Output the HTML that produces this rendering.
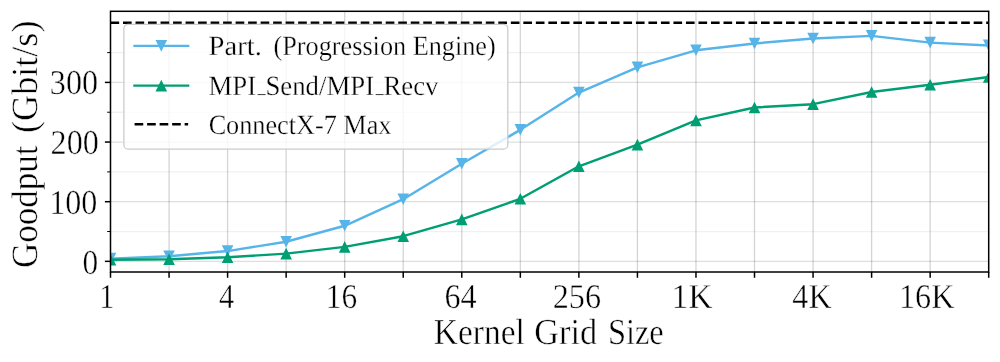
<!DOCTYPE html>
<html><head><meta charset="utf-8"><style>
html,body{margin:0;padding:0;background:#fff;width:1000px;height:362px;overflow:hidden;position:relative}
</style></head><body>
<svg width="1000" height="362" viewBox="0 0 1000 362" style="position:absolute;left:0;top:0">
<defs><clipPath id="ax"><rect x="110.5" y="11.3" width="878.20" height="260.70"/></clipPath></defs>
<line x1="169.05" y1="11.3" x2="169.05" y2="272.0" stroke="#000" stroke-opacity="0.17" stroke-width="1.3"/>
<line x1="227.59" y1="11.3" x2="227.59" y2="272.0" stroke="#000" stroke-opacity="0.17" stroke-width="1.3"/>
<line x1="286.14" y1="11.3" x2="286.14" y2="272.0" stroke="#000" stroke-opacity="0.17" stroke-width="1.3"/>
<line x1="344.69" y1="11.3" x2="344.69" y2="272.0" stroke="#000" stroke-opacity="0.17" stroke-width="1.3"/>
<line x1="403.23" y1="11.3" x2="403.23" y2="272.0" stroke="#000" stroke-opacity="0.17" stroke-width="1.3"/>
<line x1="461.78" y1="11.3" x2="461.78" y2="272.0" stroke="#000" stroke-opacity="0.17" stroke-width="1.3"/>
<line x1="520.33" y1="11.3" x2="520.33" y2="272.0" stroke="#000" stroke-opacity="0.17" stroke-width="1.3"/>
<line x1="578.87" y1="11.3" x2="578.87" y2="272.0" stroke="#000" stroke-opacity="0.17" stroke-width="1.3"/>
<line x1="637.42" y1="11.3" x2="637.42" y2="272.0" stroke="#000" stroke-opacity="0.17" stroke-width="1.3"/>
<line x1="695.97" y1="11.3" x2="695.97" y2="272.0" stroke="#000" stroke-opacity="0.17" stroke-width="1.3"/>
<line x1="754.51" y1="11.3" x2="754.51" y2="272.0" stroke="#000" stroke-opacity="0.17" stroke-width="1.3"/>
<line x1="813.06" y1="11.3" x2="813.06" y2="272.0" stroke="#000" stroke-opacity="0.17" stroke-width="1.3"/>
<line x1="871.61" y1="11.3" x2="871.61" y2="272.0" stroke="#000" stroke-opacity="0.17" stroke-width="1.3"/>
<line x1="930.15" y1="11.3" x2="930.15" y2="272.0" stroke="#000" stroke-opacity="0.17" stroke-width="1.3"/>
<line x1="110.5" y1="231.53" x2="988.7" y2="231.53" stroke="#000" stroke-opacity="0.06" stroke-width="1.3"/>
<line x1="110.5" y1="171.88" x2="988.7" y2="171.88" stroke="#000" stroke-opacity="0.06" stroke-width="1.3"/>
<line x1="110.5" y1="112.23" x2="988.7" y2="112.23" stroke="#000" stroke-opacity="0.06" stroke-width="1.3"/>
<line x1="110.5" y1="52.58" x2="988.7" y2="52.58" stroke="#000" stroke-opacity="0.06" stroke-width="1.3"/>
<line x1="110.5" y1="261.35" x2="988.7" y2="261.35" stroke="#000" stroke-opacity="0.13" stroke-width="1.3"/>
<line x1="110.5" y1="201.70" x2="988.7" y2="201.70" stroke="#000" stroke-opacity="0.13" stroke-width="1.3"/>
<line x1="110.5" y1="142.05" x2="988.7" y2="142.05" stroke="#000" stroke-opacity="0.13" stroke-width="1.3"/>
<line x1="110.5" y1="82.40" x2="988.7" y2="82.40" stroke="#000" stroke-opacity="0.13" stroke-width="1.3"/>
<line x1="110.5" y1="22.75" x2="988.7" y2="22.75" stroke="#000" stroke-width="2.44" stroke-dasharray="8.65 3.86"/>
<g clip-path="url(#ax)"><polyline points="110.50,258.61 169.05,256.22 227.59,251.09 286.14,241.73 344.69,225.80 403.23,199.19 461.78,163.82 520.33,129.82 578.87,92.54 637.42,67.37 695.97,50.31 754.51,43.45 813.06,38.56 871.61,35.87 930.15,42.61 988.70,45.42" fill="none" stroke="#56B4E9" stroke-width="2.44" stroke-linejoin="round"/>
<path d="M104.70,252.81 L116.30,252.81 L110.50,264.41 Z M163.25,250.42 L174.85,250.42 L169.05,262.02 Z M221.79,245.29 L233.39,245.29 L227.59,256.89 Z M280.34,235.93 L291.94,235.93 L286.14,247.53 Z M338.89,220.00 L350.49,220.00 L344.69,231.60 Z M397.43,193.39 L409.03,193.39 L403.23,204.99 Z M455.98,158.02 L467.58,158.02 L461.78,169.62 Z M514.53,124.02 L526.13,124.02 L520.33,135.62 Z M573.07,86.74 L584.67,86.74 L578.87,98.34 Z M631.62,61.57 L643.22,61.57 L637.42,73.17 Z M690.17,44.51 L701.77,44.51 L695.97,56.11 Z M748.71,37.65 L760.31,37.65 L754.51,49.25 Z M807.26,32.76 L818.86,32.76 L813.06,44.36 Z M865.81,30.07 L877.41,30.07 L871.61,41.67 Z M924.35,36.81 L935.95,36.81 L930.15,48.41 Z M982.90,39.62 L994.50,39.62 L988.70,51.22 Z" fill="#56B4E9"/></g>
<g clip-path="url(#ax)"><polyline points="110.50,259.80 169.05,259.32 227.59,257.29 286.14,253.60 344.69,246.86 403.23,236.18 461.78,219.42 520.33,198.78 578.87,166.27 637.42,144.67 695.97,120.34 754.51,107.51 813.06,104.17 871.61,92.00 930.15,84.79 988.70,77.03" fill="none" stroke="#009E73" stroke-width="2.44" stroke-linejoin="round"/>
<path d="M104.70,265.60 L116.30,265.60 L110.50,254.00 Z M163.25,265.12 L174.85,265.12 L169.05,253.52 Z M221.79,263.09 L233.39,263.09 L227.59,251.49 Z M280.34,259.40 L291.94,259.40 L286.14,247.80 Z M338.89,252.66 L350.49,252.66 L344.69,241.06 Z M397.43,241.98 L409.03,241.98 L403.23,230.38 Z M455.98,225.22 L467.58,225.22 L461.78,213.62 Z M514.53,204.58 L526.13,204.58 L520.33,192.98 Z M573.07,172.07 L584.67,172.07 L578.87,160.47 Z M631.62,150.47 L643.22,150.47 L637.42,138.87 Z M690.17,126.14 L701.77,126.14 L695.97,114.54 Z M748.71,113.31 L760.31,113.31 L754.51,101.71 Z M807.26,109.97 L818.86,109.97 L813.06,98.37 Z M865.81,97.80 L877.41,97.80 L871.61,86.20 Z M924.35,90.59 L935.95,90.59 L930.15,78.99 Z M982.90,82.83 L994.50,82.83 L988.70,71.23 Z" fill="#009E73"/></g>
<rect x="110.5" y="11.3" width="878.20" height="260.70" fill="none" stroke="#000" stroke-width="1.5"/>
<line x1="110.50" y1="272.0" x2="110.50" y2="277.80" stroke="#000" stroke-width="1.5"/>
<line x1="169.05" y1="272.0" x2="169.05" y2="277.80" stroke="#000" stroke-width="1.5"/>
<line x1="227.59" y1="272.0" x2="227.59" y2="277.80" stroke="#000" stroke-width="1.5"/>
<line x1="286.14" y1="272.0" x2="286.14" y2="277.80" stroke="#000" stroke-width="1.5"/>
<line x1="344.69" y1="272.0" x2="344.69" y2="277.80" stroke="#000" stroke-width="1.5"/>
<line x1="403.23" y1="272.0" x2="403.23" y2="277.80" stroke="#000" stroke-width="1.5"/>
<line x1="461.78" y1="272.0" x2="461.78" y2="277.80" stroke="#000" stroke-width="1.5"/>
<line x1="520.33" y1="272.0" x2="520.33" y2="277.80" stroke="#000" stroke-width="1.5"/>
<line x1="578.87" y1="272.0" x2="578.87" y2="277.80" stroke="#000" stroke-width="1.5"/>
<line x1="637.42" y1="272.0" x2="637.42" y2="277.80" stroke="#000" stroke-width="1.5"/>
<line x1="695.97" y1="272.0" x2="695.97" y2="277.80" stroke="#000" stroke-width="1.5"/>
<line x1="754.51" y1="272.0" x2="754.51" y2="277.80" stroke="#000" stroke-width="1.5"/>
<line x1="813.06" y1="272.0" x2="813.06" y2="277.80" stroke="#000" stroke-width="1.5"/>
<line x1="871.61" y1="272.0" x2="871.61" y2="277.80" stroke="#000" stroke-width="1.5"/>
<line x1="930.15" y1="272.0" x2="930.15" y2="277.80" stroke="#000" stroke-width="1.5"/>
<line x1="988.70" y1="272.0" x2="988.70" y2="277.80" stroke="#000" stroke-width="1.5"/>
<line x1="104.90" y1="261.35" x2="110.5" y2="261.35" stroke="#000" stroke-width="1.5"/>
<line x1="104.90" y1="201.70" x2="110.5" y2="201.70" stroke="#000" stroke-width="1.5"/>
<line x1="104.90" y1="142.05" x2="110.5" y2="142.05" stroke="#000" stroke-width="1.5"/>
<line x1="104.90" y1="82.40" x2="110.5" y2="82.40" stroke="#000" stroke-width="1.5"/>
<line x1="107.20" y1="231.53" x2="110.5" y2="231.53" stroke="#000" stroke-width="1.0"/>
<line x1="107.20" y1="171.88" x2="110.5" y2="171.88" stroke="#000" stroke-width="1.0"/>
<line x1="107.20" y1="112.23" x2="110.5" y2="112.23" stroke="#000" stroke-width="1.0"/>
<line x1="107.20" y1="52.58" x2="110.5" y2="52.58" stroke="#000" stroke-width="1.0"/>
<rect x="123.9" y="24.3" width="383.9" height="124.8" rx="4.2" ry="4.2" fill="#fff" fill-opacity="0.8" stroke="#cccccc" stroke-width="1.3"/>
<line x1="133.3" y1="45.9" x2="189.3" y2="45.9" stroke="#56B4E9" stroke-width="2.44"/>
<path d="M155.50,40.10 L167.10,40.10 L161.30,51.70 Z" fill="#56B4E9"/>
<line x1="133.3" y1="85.6" x2="189.3" y2="85.6" stroke="#009E73" stroke-width="2.44"/>
<path d="M155.50,91.40 L167.10,91.40 L161.30,79.80 Z" fill="#009E73"/>
<line x1="134.6" y1="124.2" x2="188.1" y2="124.2" stroke="#000" stroke-width="2.44" stroke-dasharray="8.65 3.86"/>
<g font-family="Liberation Serif" fill="#000" stroke="#fff" stroke-width="0.45" opacity="0.999" text-rendering="geometricPrecision">
<text transform="translate(82.599,273.550) scale(0.9007,1)" font-size="34.8">0</text>
<text transform="translate(49.166,213.900) scale(0.9215,1)" font-size="34.8">100</text>
<text transform="translate(50.557,153.650) scale(0.9239,1)" font-size="34.8">200</text>
<text transform="translate(49.832,94.200) scale(0.9249,1)" font-size="34.8">300</text>
<text transform="translate(99.197,307.500) scale(0.8656,1)" font-size="34.8">1</text>
<text transform="translate(219.090,307.500) scale(0.8714,1)" font-size="34.8">4</text>
<text transform="translate(325.829,307.500) scale(0.9017,1)" font-size="34.8">16</text>
<text transform="translate(444.388,307.500) scale(0.9252,1)" font-size="34.8">64</text>
<text transform="translate(552.685,307.500) scale(0.9259,1)" font-size="34.8">256</text>
<text transform="translate(671.478,307.500) scale(0.9662,1)" font-size="34.8">1K</text>
<text transform="translate(792.369,307.500) scale(0.9205,1)" font-size="34.8">4K</text>
<text transform="translate(898.986,307.500) scale(0.9251,1)" font-size="34.8">16K</text>
<text transform="translate(433.860,344.000) scale(0.9142,1)" font-size="36.6">Kernel</text>
<text transform="translate(534.278,344.000) scale(0.9396,1)" font-size="36.6">Grid</text>
<text transform="translate(607.891,344.000) scale(0.8872,1)" font-size="36.6">Size</text>
<text transform="translate(37.200,267.928) rotate(-90) scale(0.9455,1)" font-size="37.0">Goodput</text>
<text transform="translate(37.200,132.972) rotate(-90) scale(0.9769,1)" font-size="37.0">(Gbit/s)</text>
<text transform="translate(208.544,55.000) scale(1.0311,1)" font-size="27.8" stroke-width="0.3">Part.</text>
<text transform="translate(273.523,55.000) scale(0.9436,1)" font-size="27.8" stroke-width="0.3">(Progression Engine)</text>
<text transform="translate(208.477,94.800) scale(0.9643,1)" font-size="27.8" stroke-width="0.3">MPI<tspan font-size="16" dx="1.6" dy="-2.1" stroke="none">_</tspan><tspan dy="2.1">Send/MPI</tspan><tspan font-size="16" dx="1.6" dy="-2.1" stroke="none">_</tspan><tspan dy="2.1">Recv</tspan></text>
<text transform="translate(208.630,133.500) scale(0.9435,1)" font-size="27.8" stroke-width="0.3">ConnectX-7 Max</text>
</g>
</svg>
</body></html>
